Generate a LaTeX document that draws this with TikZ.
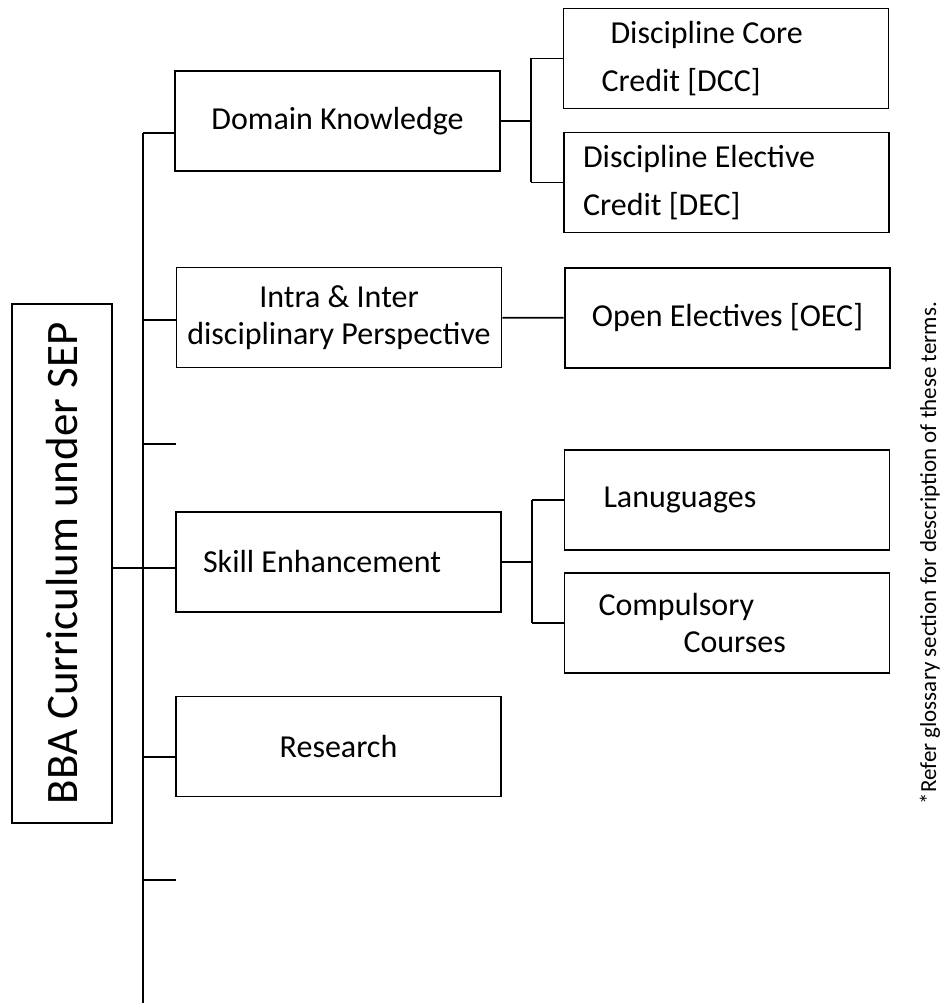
\documentclass[tikz,border=0pt]{standalone}
\usepackage{fontspec}
\setmainfont{Carlito}

\begin{document}
\begin{tikzpicture}
[
	x=1pt, y=-1pt,
	box/.style={draw,line width=1.8pt,minimum width=325pt,minimum height=100pt,inner sep=0pt,align=center,font=\fontsize{32}{37}\selectfont},
	boxl/.style={box,align=flush left,text width=#1},
	link/.style={line width=1.8pt},
	bus/.style={line width=2.8pt}
]
	\useasboundingbox (0,0) rectangle (945,1003);

	% root
	\node[box,rotate=90,minimum width=519pt,font=\fontsize{45}{50}\selectfont] at (62,563.5) (root) {BBA Curriculum under SEP};

	% first level
	\node[box] at (337.5,121) (dk) {Domain Knowledge};
	\node[box] at (339,317.5) (intra) {Intra \& Inter\\disciplinary Perspective};
	\node[boxl=271pt] at (338.5,562) (skill) {Skill Enhancement};
	\node[box] at (338.5,746.5) (research) {Research};

	% second level
	\node[boxl=249pt,font=\fontsize{32}{48}\selectfont] at (726,58.5) (dcc) {\hspace*{9pt}Discipline Core\\Credit [DCC]};
	\node[boxl=287pt,font=\fontsize{32}{48}\selectfont] at (726.5,182.5) (dec) {Discipline Elective\\Credit [DEC]};
	\node[box,line width=2.8pt] at (727.5,318) (oec) {Open Electives [OEC]};
	\node[boxl=247pt] at (727,500) (lang) {Lanuguages};
	\node[boxl=257pt] at (727,623) (comp) {Compulsory\\\hspace*{85pt}Courses};

	% trunk
	\coordinate (t1) at (143,133);
	\coordinate (t2) at (143,320);
	\coordinate (t3) at (143,444);
	\coordinate (t4) at (143,568);
	\coordinate (t5) at (143,757);
	\coordinate (t6) at (143,880);
	\coordinate (tend) at (143,1003);
	\coordinate (s3) at (176,444);
	\coordinate (s6) at (176,880);

	\draw[bus] (t1) -- (tend);
	\draw[bus] (root.south |- t4) -- (t4);
	\draw[link] (t1) -- (t1 -| dk.west);
	\draw[link] (t2) -- (t2 -| intra.west);
	\draw[link] (t3) -- (s3);
	\draw[link] (t4) -- (t4 -| skill.west);
	\draw[link] (t5) -- (t5 -| research.west);
	\draw[link] (t6) -- (s6);

	% branches
	\coordinate (dkj) at (531,121);
	\draw[bus] (dk) -- (dkj);
	\draw[bus] (dkj |- dcc) -- (dkj |- dec);
	\draw[link] (dkj |- dcc) -- (dcc);
	\draw[link] (dkj |- dec) -- (dec);

	\draw[link] (intra) -- (oec);

	\coordinate (skj) at (532,562);
	\draw[bus] (skill) -- (skj);
	\draw[bus] (skj |- lang) -- (skj |- comp);
	\draw[link] (skj |- lang) -- (lang);
	\draw[link] (skj |- comp) -- (comp);

	% note
	\node[rotate=90,anchor=base,inner sep=0pt,font=\fontsize{23}{27}\selectfont] at (936,553) (note) {*Refer glossary section for description of these terms.};

\end{tikzpicture}
\end{document}
